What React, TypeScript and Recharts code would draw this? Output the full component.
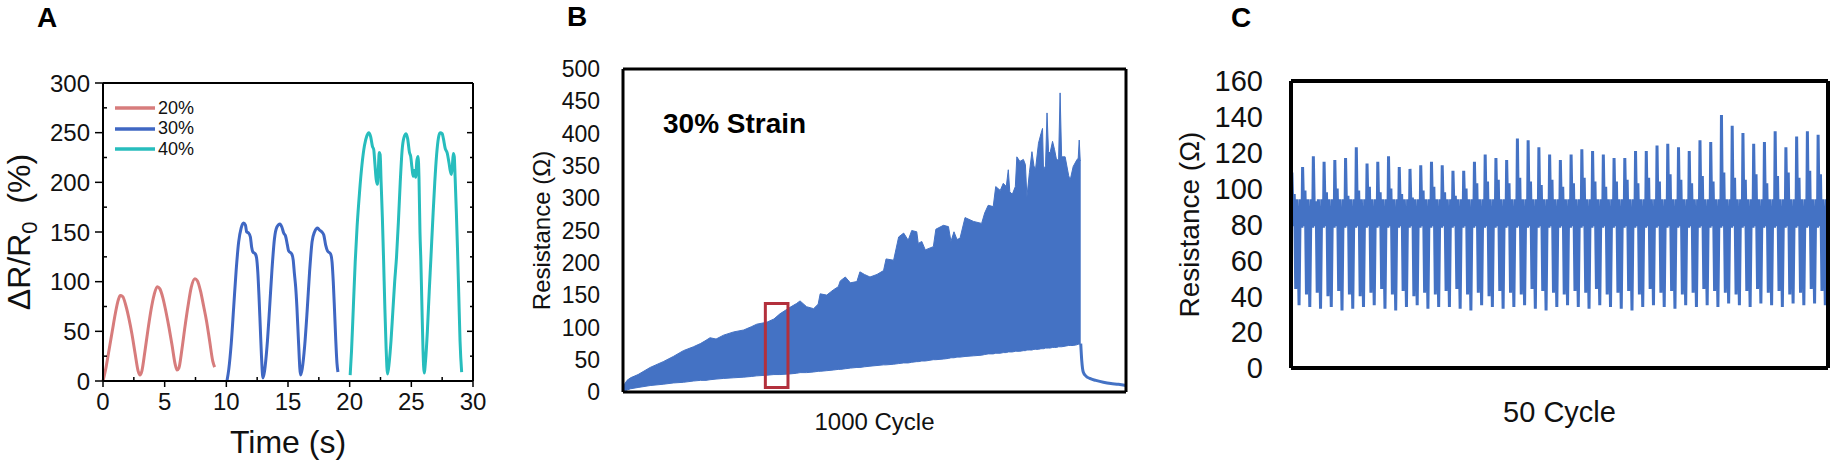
import React from "react";
import {
  LineChart,
  ComposedChart,
  Line,
  Area,
  XAxis,
  YAxis,
  ReferenceArea,
} from "recharts";

const FONT = '"Liberation Sans", Arial, sans-serif';
const INK = "#111";
const EXCEL_BLUE = "#4472c4";

// ---- A: relative resistance change vs time at three strain levels ----
const a20Time = [0, 0.25, 0.5, 0.75, 1.0, 1.25, 1.4, 1.6, 1.85, 2.1, 2.35, 2.6, 2.85, 3.0, 3.15, 3.4, 3.65, 3.9, 4.15, 4.4, 4.6, 4.85, 5.1, 5.35, 5.6, 5.85, 6.0, 6.15, 6.4, 6.65, 6.9, 7.15, 7.45, 7.65, 7.9, 8.15, 8.4, 8.65, 8.9, 9.05];
const a20Value = [0, 14, 32, 50, 68, 82, 86, 85, 76, 63, 47, 28, 10, 6, 10, 30, 52, 72, 87, 95, 93, 84, 70, 54, 36, 17, 11, 13, 32, 55, 76, 94, 103, 101, 91, 76, 60, 40, 20, 14];

const a30Time = [
  10.05, 10.2, 10.4, 10.6, 10.8, 11.0, 11.2, 11.4, 11.55, 11.65, 11.8, 11.95, 12.05, 12.15, 12.35, 12.45, 12.55, 12.65, 12.75, 12.85, 12.97,
  13.1, 13.3, 13.5, 13.7, 13.9, 14.1, 14.35, 14.5, 14.65, 14.8, 14.95, 15.05, 15.3, 15.42, 15.52, 15.62, 15.72, 15.85, 16.02,
  16.15, 16.35, 16.55, 16.75, 16.95, 17.15, 17.4, 17.55, 17.75, 17.9, 18.05, 18.2, 18.45, 18.57, 18.67, 18.77, 18.87, 18.97, 19.05,
];
const a30Value = [
  0, 12, 38, 75, 112, 140, 154, 159, 157, 150, 149, 145, 135, 130, 128, 124, 110, 85, 55, 25, 3,
  10, 35, 72, 112, 143, 155, 158, 155, 149, 146, 137, 131, 128, 122, 108, 95, 75, 40, 6,
  12, 35, 70, 110, 140, 150, 154, 152, 150, 147, 137, 131, 128, 120, 100, 72, 42, 18, 9,
];

const a40Time = [
  20.04, 20.15, 20.3, 20.45, 20.6, 20.8, 21.0, 21.2, 21.4, 21.55, 21.7, 21.85, 21.95, 22.05, 22.15, 22.25, 22.32, 22.4, 22.47, 22.55, 22.65, 22.75, 22.85, 22.95, 23.07,
  23.2, 23.35, 23.5, 23.65, 23.8, 23.95, 24.1, 24.25, 24.4, 24.58, 24.7, 24.85, 24.95, 25.05, 25.15, 25.25, 25.35, 25.45, 25.55, 25.62, 25.7, 25.77, 25.85, 25.95, 26.04,
  26.15, 26.3, 26.45, 26.58, 26.75, 26.9, 27.05, 27.2, 27.33, 27.5, 27.6, 27.75, 27.9, 28.05, 28.15, 28.25, 28.32, 28.4, 28.48, 28.55, 28.65, 28.75, 28.85, 28.95, 29.08,
];
const a40Value = [
  6, 30, 75, 120, 155, 190, 218, 237, 247, 250, 246, 236, 233, 218, 203, 198, 212, 230, 228, 200, 165, 122, 75, 35, 7,
  18, 40, 70, 100, 125, 160, 200, 232, 245, 249, 244, 230, 226, 215, 206, 212, 205, 222, 226, 205, 150, 122, 80, 30, 8,
  20, 50, 90, 122, 165, 200, 228, 245, 250, 249, 244, 234, 230, 220, 212, 208, 215, 229, 226, 205, 170, 130, 85, 40, 9,
];

const aTimeTicks = [0, 5, 10, 15, 20, 25, 30];
const aTimeMinor = [2.5, 7.5, 12.5, 17.5, 22.5, 27.5];
const aRatioTicks = [0, 50, 100, 150, 200, 250, 300];
const aRatioMinor = [25, 75, 125, 175, 225, 275];

// ---- B: 1000-cycle run at 30 % strain (min/max envelope of the signal) ----
const bCycle = [
  0, 3, 8, 15, 30, 54, 80, 100, 120, 140, 154, 165, 173, 185, 200,
  220, 240, 255, 266, 286, 300, 312, 332, 345, 352, 365, 379, 388, 392, 405,
  418, 428, 432, 442, 452, 465, 471, 480, 491, 505, 518, 523, 538, 548, 558,
  567, 574, 584, 587, 594, 601, 617, 622, 637, 647, 652, 658, 664, 670, 680,
  697, 713, 719, 726, 736, 741, 750, 756, 762, 766, 769, 774, 780, 783, 789,
  796, 800, 803, 808, 813, 817, 820, 826, 831, 834, 836, 840, 843, 846, 849,
  854, 858, 862, 866, 869, 872, 879, 886, 889, 895, 902, 905, 907, 909, 910,
];
const bUpper = [
  0, 12, 18, 22, 27, 38, 47, 55, 64, 70, 75, 80, 84, 82, 88,
  93, 96, 101, 105, 108, 113, 121, 131, 137, 141, 132, 129, 136, 152, 150,
  158, 163, 172, 178, 169, 171, 186, 182, 178, 182, 188, 206, 204, 240, 246,
  235, 250, 248, 230, 233, 220, 225, 252, 258, 256, 233, 248, 236, 238, 270,
  264, 261, 277, 289, 287, 318, 312, 323, 318, 344, 310, 306, 318, 364, 357,
  360, 352, 302, 340, 372, 350, 344, 385, 400, 408, 344, 350, 432, 372, 370,
  388, 375, 359, 360, 463, 364, 364, 335, 328, 349, 359, 362, 390, 358, 359,
];
const bLower = [
  0, 1, 3, 5, 7, 10, 12, 14, 15, 17, 18, 18, 19, 20, 21,
  22, 23, 24, 25, 26, 27, 27, 28, 29, 30, 30, 31, 32, 32, 33,
  34, 35, 35, 36, 37, 38, 38, 39, 40, 41, 42, 42, 43, 44, 45,
  45, 46, 47, 47, 48, 48, 50, 50, 51, 52, 53, 53, 54, 54, 55,
  56, 57, 58, 59, 59, 60, 60, 61, 61, 62, 62, 62, 63, 63, 63,
  64, 64, 65, 65, 65, 66, 66, 66, 67, 67, 67, 68, 68, 68, 68,
  69, 69, 69, 70, 70, 70, 71, 72, 72, 72, 73, 74, 74, 75, 75,
];
// relaxation after the last cycle
const bTailCycle = [910, 912, 915, 920, 928, 940, 955, 970, 985, 1000];
const bTail = [75, 49, 31, 25, 21, 18, 15, 13, 12, 10];
const bTicks = [0, 50, 100, 150, 200, 250, 300, 350, 400, 450, 500];
// highlighted window that panel C zooms into
const bWindow = { from: 283, to: 328, low: 7, high: 137 };

// ---- C: 50-cycle detail ----
const cPeak = [
  109, 112, 118, 115, 116, 117, 123, 114, 115, 118,
  112, 111, 113, 115, 113, 110, 110, 115, 119, 117,
  116, 128, 127, 123, 119, 116, 119, 122, 121, 119,
  117, 117, 121, 121, 124, 125, 123, 121, 127, 126,
  141, 135, 131, 125, 126, 132, 123, 129, 132, 130,
];
const cShoulder = [
  97, 99, 93, 98, 100, 96, 99, 101, 98, 100,
  97, 95, 99, 101, 98, 96, 100, 103, 104, 105,
  103, 106, 104, 102, 105, 101, 103, 106, 104, 101,
  104, 105, 103, 106, 104, 108, 105, 103, 107, 104,
  109, 106, 105, 108, 103, 107, 109, 106, 110, 108,
];
const cDip = [
  44, 41, 42, 40, 43, 41, 40, 42, 44, 41,
  43, 40, 42, 41, 43, 44, 41, 42, 40, 43,
  42, 41, 44, 43, 42, 41, 43, 42, 44, 41,
  42, 43, 41, 44, 42, 43, 41, 42, 44, 43,
  42, 41, 43, 44, 42, 43, 41, 42, 44, 43,
];
const cFloor = [
  35, 34, 33, 34, 32, 33, 34, 35, 33, 32,
  34, 35, 33, 34, 34, 33, 32, 35, 34, 33,
  34, 35, 33, 32, 34, 35, 34, 33, 35, 34,
  33, 32, 34, 35, 34, 33, 35, 34, 35, 34,
  36, 35, 34, 36, 35, 34, 36, 35, 36, 35,
];
const C_BAND_HIGH = 94;
const C_BAND_LOW = 79;
const C_START = 92;
const C_END = 68;
const cTicks = [0, 20, 40, 60, 80, 100, 120, 140, 160];

const toPoints = (t: number[], v: number[]) => t.map((x, i) => ({ t: x, v: v[i] }));

const aSeries = [
  { name: "20%", color: "#d77c7c", data: toPoints(a20Time, a20Value) },
  { name: "30%", color: "#3f67c3", data: toPoints(a30Time, a30Value) },
  { name: "40%", color: "#27bdbd", data: toPoints(a40Time, a40Value) },
];
const aTimeAll = [...aTimeTicks, ...aTimeMinor].sort((p, q) => p - q);
const aRatioAll = [...aRatioTicks, ...aRatioMinor].sort((p, q) => p - q);

const bRows: { u: number; band?: number[]; tail?: number }[] = [
  ...bCycle.map((u, i) => ({ u, band: [bLower[i], bUpper[i]] })),
  ...bTailCycle.map((u, i) => ({ u, tail: bTail[i] })),
];

// each cycle: sharp peak, shoulder, then a short and a deep release dip
const cRows: { x: number; v: number }[] = [{ x: 0, v: C_START }];
cPeak.forEach((peak, k) => {
  const steps: [number, number][] = [
    [0.02, C_BAND_LOW], [0.08, peak], [0.15, C_BAND_HIGH], [0.22, C_BAND_LOW],
    [0.3, cShoulder[k]], [0.37, C_BAND_LOW], [0.44, cDip[k]], [0.55, C_BAND_HIGH],
    [0.63, C_BAND_LOW], [0.75, cFloor[k]], [0.86, C_BAND_HIGH], [0.94, C_BAND_LOW],
  ];
  steps.forEach(([dx, v]) => cRows.push({ x: k + dx, v }));
});
cRows.push({ x: 50, v: C_END });

// Origin-style ticks: majors outward (labelled) on bottom/left, minors inward,
// everything inward on the mirrored top/right axes.
type Side = "bottom" | "top" | "left" | "right";
const makeTick = (side: Side, majors: number[]) => (props: any) => {
  const { x, y, payload } = props;
  const major = majors.includes(payload.value);
  const line = { stroke: "#000", strokeWidth: 1.5 };
  if (side === "bottom") {
    return (
      <g>
        <line x1={x} x2={x} y1={y} y2={major ? y + 6 : y - 4} {...line} />
        {major && (
          <text x={x} y={y + 12} dy="0.71em" textAnchor="middle" fontSize={24} fill={INK}>
            {payload.value}
          </text>
        )}
      </g>
    );
  }
  if (side === "left") {
    return (
      <g>
        <line x1={x} x2={major ? x - 8 : x + 4} y1={y} y2={y} {...line} />
        {major && (
          <text x={x - 13} y={y} dy="0.355em" textAnchor="end" fontSize={24} fill={INK}>
            {payload.value}
          </text>
        )}
      </g>
    );
  }
  if (side === "top") {
    return <line x1={x} x2={x} y1={y} y2={y + (major ? 6 : 4)} {...line} />;
  }
  return <line x1={x} x2={x - (major ? 6 : 3)} y1={y} y2={y} {...line} />;
};

function PanelA() {
  const frame = { stroke: "#000", strokeWidth: 2 };
  return (
    <div style={{ position: "absolute", left: 0, top: 0 }}>
      <LineChart width={500} height={465} margin={{ top: 83, right: 27, bottom: 0, left: 0 }}>
        <XAxis
          type="number"
          dataKey="t"
          domain={[0, 30]}
          ticks={aTimeAll}
          interval={0}
          height={84}
          tickSize={0}
          tickMargin={0}
          axisLine={frame}
          tickLine={false}
          tick={makeTick("bottom", aTimeTicks)}
          label={{ value: "Time (s)", position: "insideBottom", offset: 12, fontSize: 32, fill: INK }}
        />
        <XAxis
          xAxisId="top"
          orientation="top"
          type="number"
          domain={[0, 30]}
          ticks={aTimeAll}
          interval={0}
          mirror
          tickSize={0}
          tickMargin={0}
          axisLine={frame}
          tickLine={false}
          tick={makeTick("top", aTimeTicks)}
          allowDataOverflow
        />
        <YAxis
          type="number"
          domain={[0, 300]}
          ticks={aRatioAll}
          interval={0}
          width={103}
          tickSize={0}
          tickMargin={0}
          axisLine={frame}
          tickLine={false}
          tick={makeTick("left", aRatioTicks)}
        />
        <YAxis
          yAxisId="right"
          orientation="right"
          type="number"
          domain={[0, 300]}
          ticks={aRatioAll}
          interval={0}
          mirror
          tickSize={0}
          tickMargin={0}
          axisLine={frame}
          tickLine={false}
          tick={makeTick("right", aRatioTicks)}
          allowDataOverflow
        />
        {aSeries.map((s) => (
          <Line
            key={s.name}
            data={s.data}
            dataKey="v"
            name={s.name}
            type="monotone"
            stroke={s.color}
            strokeWidth={3}
            dot={false}
            activeDot={false}
            isAnimationActive={false}
          />
        ))}
      </LineChart>
      {/* legend */}
      <div style={{ position: "absolute", left: 115, top: 98, fontSize: 18, color: INK }}>
        {aSeries.map((s) => (
          <div key={s.name} style={{ display: "flex", alignItems: "center", height: 20.5 }}>
            <svg width={42} height={6} style={{ display: "block" }}>
              <line x1={0} x2={40} y1={3} y2={3} stroke={s.color} strokeWidth={3.5} />
            </svg>
            <span style={{ marginLeft: 1 }}>{s.name}</span>
          </div>
        ))}
      </div>
    </div>
  );
}

function PanelB() {
  const box = { stroke: "#000", strokeWidth: 3 };
  return (
    <div style={{ position: "absolute", left: 500, top: 0 }}>
      <ComposedChart width={636} height={465} data={bRows} margin={{ top: 69, right: 10, bottom: 0, left: 0 }}>
        <XAxis
          type="number"
          dataKey="u"
          domain={[0, 1000]}
          height={73}
          tick={false}
          tickLine={false}
          axisLine={box}
          label={{ value: "1000 Cycle", position: "insideBottom", offset: 35, fontSize: 24, fill: INK }}
        />
        <XAxis xAxisId="top" orientation="top" type="number" domain={[0, 1000]} mirror tick={false} tickLine={false} axisLine={box} allowDataOverflow />
        <YAxis
          type="number"
          domain={[0, 500]}
          ticks={bTicks}
          interval={0}
          width={123}
          tickSize={0}
          tickMargin={23}
          tickLine={false}
          axisLine={box}
          tick={{ fontSize: 23, fill: INK }}
          label={{ value: "Resistance (Ω)", angle: -90, position: "insideLeft", offset: 41, fontSize: 24, fill: INK, style: { textAnchor: "middle" } }}
        />
        <YAxis yAxisId="right" orientation="right" type="number" domain={[0, 500]} mirror tick={false} tickLine={false} axisLine={box} allowDataOverflow />
        <Area
          dataKey="band"
          type="linear"
          stroke={EXCEL_BLUE}
          strokeWidth={1}
          fill={EXCEL_BLUE}
          fillOpacity={1}
          dot={false}
          activeDot={false}
          isAnimationActive={false}
        />
        <Line dataKey="tail" type="monotone" stroke={EXCEL_BLUE} strokeWidth={3} dot={false} activeDot={false} isAnimationActive={false} />
        <ReferenceArea
          x1={bWindow.from}
          x2={bWindow.to}
          y1={bWindow.low}
          y2={bWindow.high}
          fill="none"
          fillOpacity={0}
          stroke="#b3303c"
          strokeWidth={3}
          ifOverflow="visible"
        />
      </ComposedChart>
    </div>
  );
}

function PanelC() {
  const box = { stroke: "#000", strokeWidth: 4 };
  return (
    <div style={{ position: "absolute", left: 1136, top: 0 }}>
      <LineChart width={700} height={465} data={cRows} margin={{ top: 81, right: 8, bottom: 0, left: 0 }}>
        <XAxis
          type="number"
          dataKey="x"
          domain={[0, 50]}
          height={97}
          tick={false}
          tickLine={false}
          axisLine={box}
          label={{ value: "50 Cycle", position: "insideBottom", offset: 43, fontSize: 29, fill: INK }}
        />
        <XAxis xAxisId="top" orientation="top" type="number" domain={[0, 50]} mirror tick={false} tickLine={false} axisLine={box} allowDataOverflow />
        <YAxis
          type="number"
          domain={[0, 160]}
          ticks={cTicks}
          interval={0}
          width={155}
          tickSize={0}
          tickMargin={28}
          tickLine={false}
          axisLine={box}
          tick={{ fontSize: 29, fill: INK }}
          label={{ value: "Resistance (Ω)", angle: -90, position: "insideLeft", offset: 53, fontSize: 28, fill: INK, style: { textAnchor: "middle" } }}
        />
        <YAxis yAxisId="right" orientation="right" type="number" domain={[0, 160]} mirror tick={false} tickLine={false} axisLine={box} allowDataOverflow />
        <Line
          dataKey="v"
          type="linear"
          stroke={EXCEL_BLUE}
          strokeWidth={3}
          dot={false}
          activeDot={false}
          isAnimationActive={false}
        />
      </LineChart>
    </div>
  );
}

export default function App() {
  return (
    <div
      style={{
        position: "absolute",
        left: 0,
        top: 0,
        width: 1836,
        height: 465,
        background: "#fff",
        fontFamily: FONT,
        overflow: "hidden",
      }}
    >
      <PanelA />
      <PanelB />
      <PanelC />
      {/* panel letters, panel A y title and the strain note */}
      <svg width={1836} height={465} style={{ position: "absolute", left: 0, top: 0, pointerEvents: "none" }}>
        <g fontFamily={FONT} fontWeight="bold" fontSize={28} fill="#000" textAnchor="middle">
          <text x={47} y={27}>A</text>
          <text x={577} y={26}>B</text>
          <text x={1241} y={27}>C</text>
        </g>
        <text x={663} y={133} fontFamily={FONT} fontWeight="bold" fontSize={28} fill="#000">
          30% Strain
        </text>
        <text
          x={19}
          y={232}
          dy="0.355em"
          transform="rotate(-90, 19, 232)"
          textAnchor="middle"
          fontFamily={FONT}
          fontSize={32}
          fill={INK}
        >
          ΔR/R
          <tspan fontSize={22} dy={7}>0</tspan>
          <tspan dy={-7}>{"\u00a0\u00a0(%)"}</tspan>
        </text>
      </svg>
    </div>
  );
}
